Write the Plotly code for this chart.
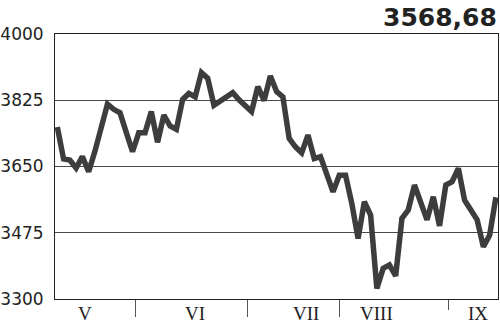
import plotly.graph_objects as go

# Index values (evenly spaced trading days)
values = [3754, 3670, 3667, 3646, 3676, 3636, 3690, 3750, 3815, 3801,
          3792, 3740, 3689, 3739, 3739, 3795, 3714, 3786, 3757, 3748,
          3827, 3843, 3834, 3898, 3883, 3812, 3824, 3833, 3845, 3826,
          3811, 3795, 3861, 3824, 3889, 3848, 3834, 3724, 3702, 3686,
          3733, 3671, 3676, 3627, 3583, 3627, 3627, 3552, 3460, 3557,
          3522, 3328, 3381, 3390, 3361, 3513, 3535, 3601, 3555, 3509,
          3570, 3493, 3601, 3610, 3645, 3561, 3535, 3509, 3438, 3469,
          3568.68]
days = list(range(len(values)))

y_ticks = [3300, 3475, 3650, 3825, 4000]
y_tick_text = ["3300", "3475", "3650", "3825", "4000"]
month_bounds = [12.4, 30.4, 45.1]
month_bound_last = [62.5]
month_labels = ["V", "VI", "VII", "VIII", "IX"]
month_label_pos = [4.4, 22.0, 39.7, 51.0, 67.1]
last_value_text = "3568,68"

fig = go.Figure()
fig.add_trace(go.Scatter(
    x=days, y=values, mode="lines",
    line=dict(color="#3d3d3d", width=5.5, shape="linear"),
    hoverinfo="skip", showlegend=False,
))

fig.update_layout(
    width=500, height=327,
    margin=dict(l=55, r=2, t=34, b=28),
    paper_bgcolor="white", plot_bgcolor="white",
    showlegend=False,
)

fig.update_yaxes(
    range=[3300, 4000],
    tickvals=y_ticks, ticktext=y_tick_text,
    showgrid=True, gridcolor="#4a4a4a", gridwidth=1,
    showline=True, linecolor="#222", linewidth=1, mirror=True,
    ticks="", ticklabelstandoff=7, automargin=False,
    tickfont=dict(family="DejaVu Sans", size=17, color="#222"),
    zeroline=False, fixedrange=True,
)

fig.update_xaxes(
    range=[-0.37, 70.33],
    tickvals=month_bounds, ticktext=["", "", ""],
    ticks="outside", ticklen=17, tickwidth=1, tickcolor="#555",
    minor=dict(tickvals=month_bound_last, ticks="outside", ticklen=10,
               tickwidth=1, tickcolor="#555"),
    showgrid=False, zeroline=False, automargin=False,
    showline=True, linecolor="#222", linewidth=1, mirror=True,
    fixedrange=True,
)

for lbl, pos in zip(month_labels, month_label_pos):
    fig.add_annotation(
        x=pos, xref="x", y=0, yref="paper",
        yanchor="middle", yshift=-14, showarrow=False,
        text=lbl,
        font=dict(family="Liberation Serif", size=19, color="#222"),
    )

fig.add_annotation(
    x=1, xref="paper", y=1, yref="paper",
    xanchor="right", yanchor="bottom", xshift=1, yshift=0,
    showarrow=False, text="<b>" + last_value_text + "</b>",
    font=dict(family="DejaVu Sans", size=25, color="#222"),
)

fig.write_html("out.html")
